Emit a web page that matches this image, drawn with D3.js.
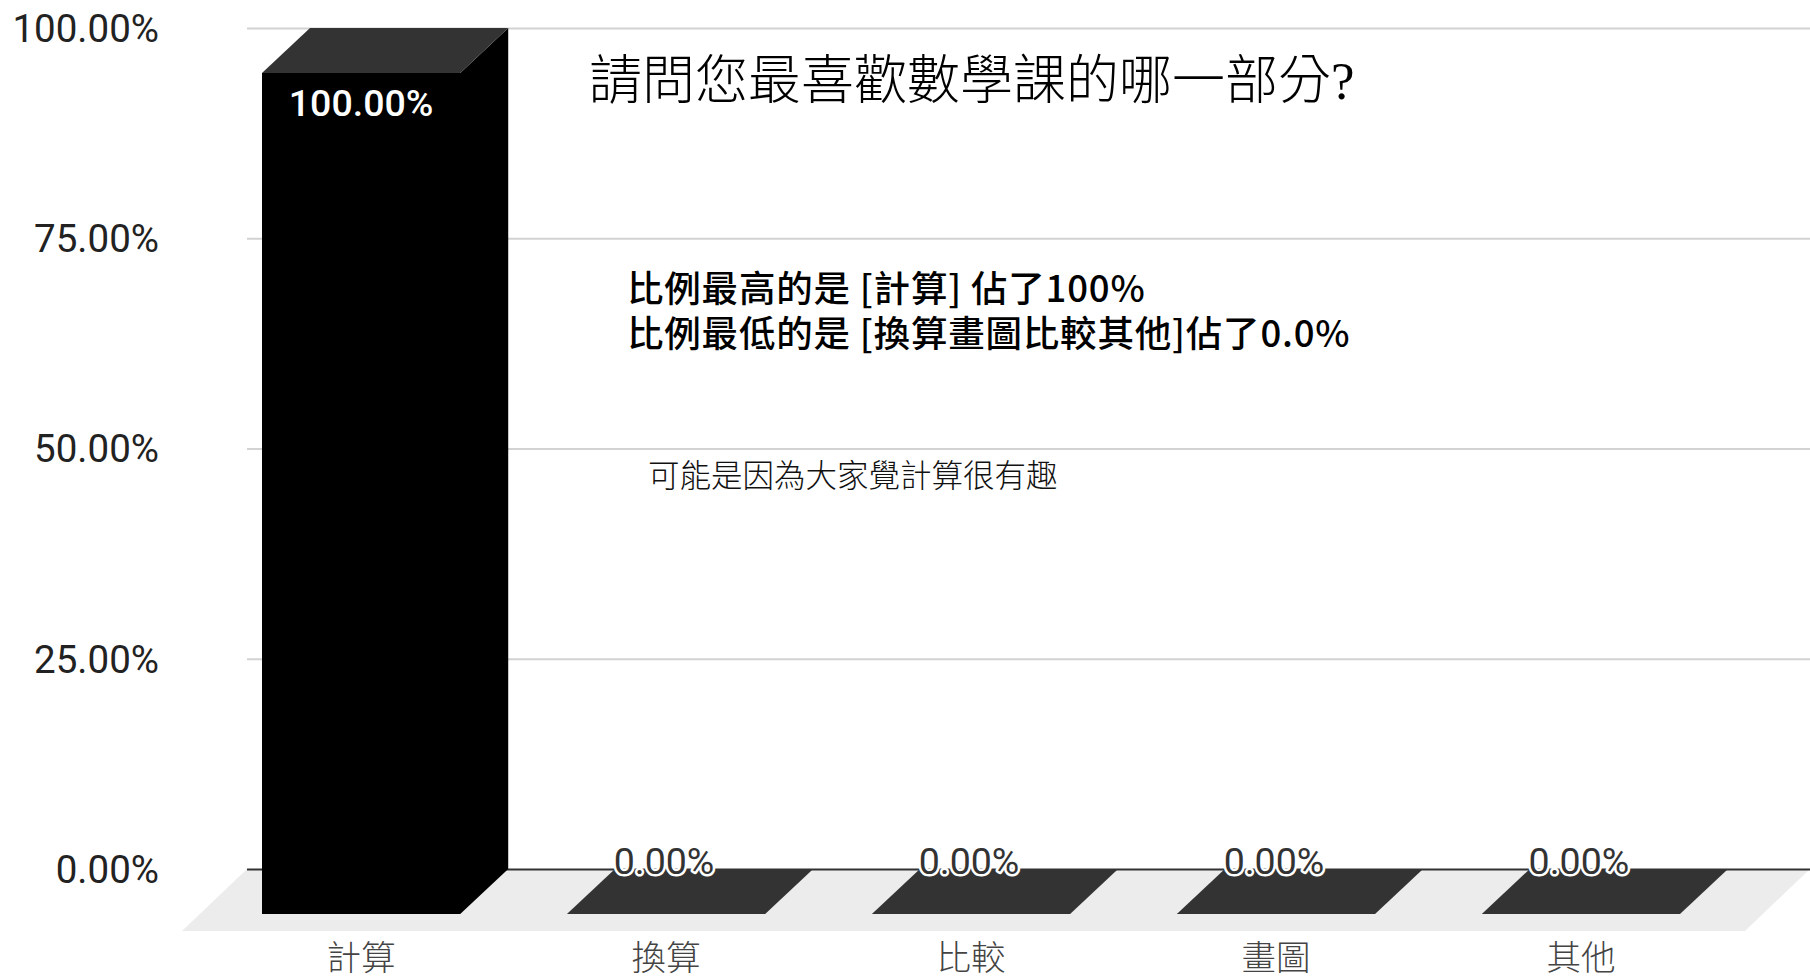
<!DOCTYPE html>
<html><head><meta charset="utf-8">
<script src="https://cdn.jsdelivr.net/npm/d3@7"></script>
<style>body{margin:0;background:#fff;overflow:hidden}</style>
</head><body><svg id="c" width="1810" height="980"></svg>
<script>
const categories = ["計算", "換算", "比較", "畫圖", "其他"];
const values = [1.0, 0, 0, 0, 0];
const yTicks = [0, 0.25, 0.5, 0.75, 1];
const title = "請問您最喜歡數學課的哪一部分?";
const notes = ["比例最高的是 [計算] 佔了100%", "比例最低的是 [換算畫圖比較其他]佔了0.0%"];
const remark = "可能是因為大家覺計算很有趣";

const svg = d3.select("#c");
const gridX0 = 247, gridX1 = 1810;
const y = d3.scaleLinear().domain([0, 1]).range([869, 28]);
const x = d3.scaleBand().domain(categories).range([262, 1680]).paddingInner(0.35).paddingOuter(0);
const DX = 48, DY = 45;   // bar depth
const FDX = 65, FDY = 62; // floor depth
const fmt = d3.format(".2%");
const cjk = "'Noto Sans CJK TC', 'Noto Sans CJK SC', sans-serif";
const pts = a => a.map(p => p.join(",")).join(" ");

// floor
svg.append("polygon")
  .attr("points", pts([[gridX0, y(0)], [gridX1, y(0)], [gridX1 - FDX, y(0) + FDY], [gridX0 - FDX, y(0) + FDY]]))
  .attr("fill", "#ececec");

// axis + gridlines
const ax = svg.append("g").attr("transform", `translate(${gridX0},0)`)
  .call(d3.axisLeft(y).tickValues(yTicks).tickFormat(fmt).tickSize(-(gridX1 - gridX0)).tickPadding(88));
ax.select(".domain").remove();
ax.selectAll(".tick line").attr("stroke", d => d === 0 ? "#333" : "#d2d2d2").attr("stroke-width", 2);
ax.selectAll(".tick text").attr("font-family", "Roboto, Arial, sans-serif").attr("font-size", 38.5)
  .attr("fill", "#222").attr("dy", "0.35em");

// bars
const bars = svg.append("g");
categories.forEach((c, i) => {
  const v = values[i];
  const x0 = x(c), w = x.bandwidth();
  const ft = y(v) + DY, fb = y(0) + DY;
  const g = bars.append("g");
  if (fb - ft > 0) {
    g.append("polygon")
      .attr("points", pts([[x0, ft], [x0 + w, ft], [x0 + w + DX, ft - DY], [x0 + w + DX, fb - DY], [x0 + w, fb], [x0, fb]]))
      .attr("fill", "#000");
  }
  g.append("polygon").attr("points", pts([[x0, ft], [x0 + DX, ft - DY], [x0 + w + DX, ft - DY], [x0 + w, ft]])).attr("fill", "#333");
});

// value labels
categories.forEach((c, i) => {
  const v = values[i];
  const x0 = x(c), w = x.bandwidth();
  const ft = y(v) + DY;
  const t = svg.append("text").text(fmt(v)).attr("text-anchor", "middle")
    .attr("font-family", "Roboto, Arial, sans-serif").attr("font-size", 37.5);
  if (v > 0.1) {
    t.attr("x", x0 + w / 2).attr("y", ft + 43).attr("fill", "#fff").attr("font-weight", 500);
  } else {
    t.attr("x", x0 + w / 2 - 2).attr("y", y(0) + 5).attr("fill", "#333")
      .attr("stroke", "#fff").attr("stroke-width", 5).attr("stroke-linejoin", "round").attr("paint-order", "stroke");
  }
});

// category labels
svg.append("g").selectAll("text").data(categories).join("text")
  .attr("x", d => x(d) + x.bandwidth() / 2).attr("y", 955)
  .attr("text-anchor", "middle").attr("dominant-baseline", "central")
  .attr("font-family", cjk).attr("font-weight", 300).attr("font-size", 34.5).attr("fill", "#444")
  .text(d => d);

// title
svg.append("text").attr("x", 589).attr("y", 81).attr("dominant-baseline", "central")
  .attr("font-family", "'Liberation Serif', " + cjk).attr("font-weight", 300).attr("font-size", 53).attr("fill", "#000")
  .text(title);

// notes (one text block, two lines)
const noteText = svg.append("text")
  .attr("font-family", cjk).attr("font-weight", 500).attr("font-size", 36.5).attr("letter-spacing", 0.8).attr("fill", "#000");
noteText.selectAll("tspan").data(notes).join("tspan")
  .attr("x", 627).attr("y", (d, i) => 286 + i * 45).attr("dominant-baseline", "central")
  .text(d => d);

svg.append("text").attr("x", 648).attr("y", 473).attr("dominant-baseline", "central")
  .attr("font-family", cjk).attr("font-weight", 300).attr("font-size", 31.5).attr("fill", "#111")
  .text(remark);
</script>
</body></html>
